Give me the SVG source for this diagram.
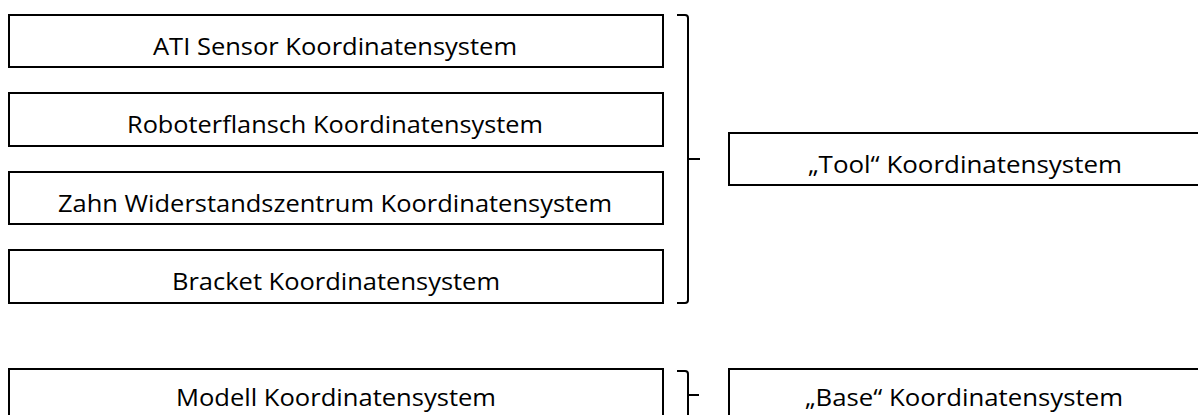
<svg xmlns="http://www.w3.org/2000/svg" width="1198" height="415" viewBox="0 0 1198 415">
<style>
.box{fill:#fff;stroke:#000;stroke-width:2}
.lbl{font-family:"Open Sans","Liberation Sans",sans-serif;font-size:24px;fill:#000;text-anchor:middle}
.brace{fill:none;stroke:#000;stroke-width:2;stroke-linejoin:round}
</style>
<rect width="1198" height="415" fill="#fff"/>
<g id="ati"><rect class="box" x="9" y="15" width="654" height="52"/><text class="lbl" x="335" y="55" textLength="364" lengthAdjust="spacingAndGlyphs">ATI Sensor Koordinatensystem</text></g>
<g id="flansch"><rect class="box" x="9" y="93" width="654" height="53"/><text class="lbl" x="335" y="133" textLength="416" lengthAdjust="spacingAndGlyphs">Roboterflansch Koordinatensystem</text></g>
<g id="zahn"><rect class="box" x="9" y="172" width="654" height="52"/><text class="lbl" x="335" y="212" textLength="554" lengthAdjust="spacingAndGlyphs">Zahn Widerstandszentrum Koordinatensystem</text></g>
<g id="bracket"><rect class="box" x="9" y="250" width="654" height="53"/><text class="lbl" x="336" y="290" textLength="328" lengthAdjust="spacingAndGlyphs">Bracket Koordinatensystem</text></g>
<g id="tool"><rect class="box" x="729" y="133" width="472" height="52"/><text class="lbl" x="965" y="173" textLength="314" lengthAdjust="spacingAndGlyphs">„Tool“ Koordinatensystem</text></g>
<g id="modell"><rect class="box" x="9" y="369" width="654" height="60"/><text class="lbl" x="336" y="406" textLength="320" lengthAdjust="spacingAndGlyphs">Modell Koordinatensystem</text></g>
<g id="base"><rect class="box" x="729" y="369" width="472" height="60"/><text class="lbl" x="964" y="406" textLength="318" lengthAdjust="spacingAndGlyphs">„Base“ Koordinatensystem</text></g>
<g id="connectors">
<path class="brace" d="M677,15 H685 Q688,15 688,18 V159 H700 M688,159 V300 Q688,303 685,303 H677"/>
<path class="brace" d="M677,371 H685 Q688,371 688,374 V395 H699 M688,395 V420"/>
</g>
</svg>
